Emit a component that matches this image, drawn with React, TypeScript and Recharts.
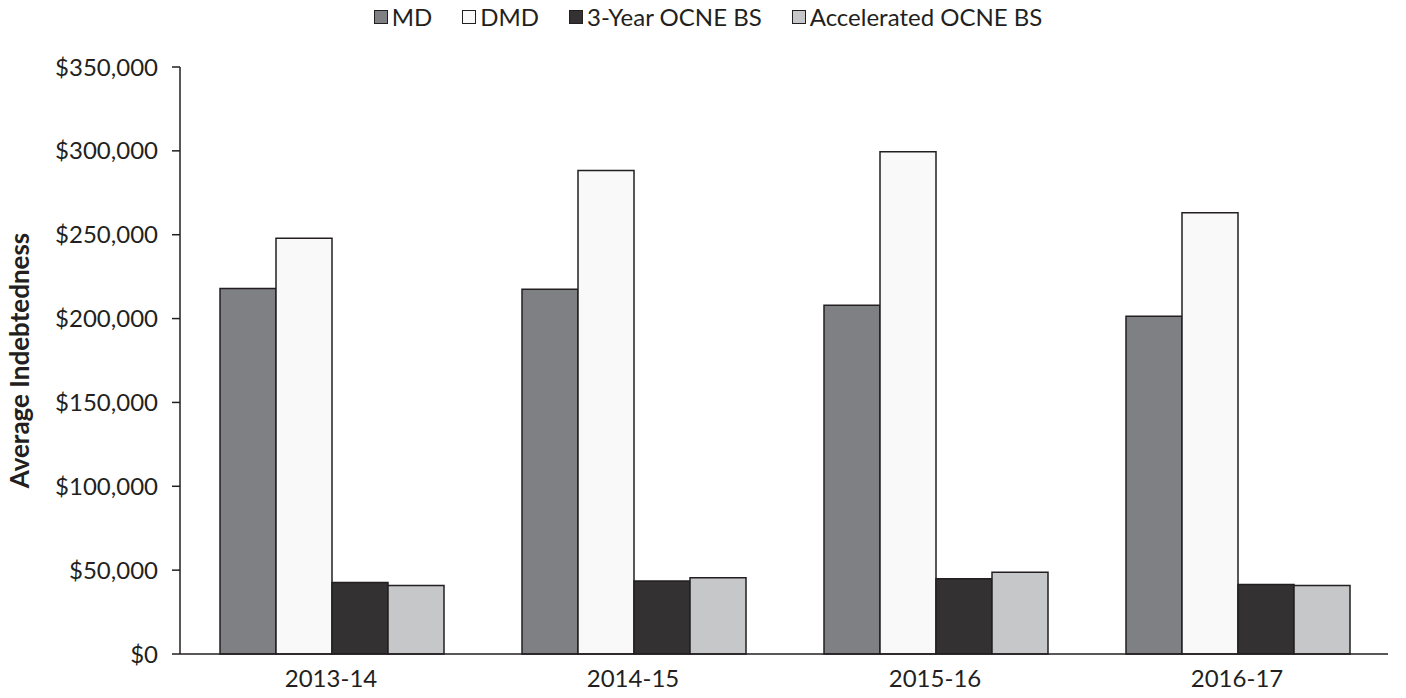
import React from "react";
import { BarChart, Bar, XAxis, YAxis } from "recharts";

const categories = ["2013-14", "2014-15", "2015-16", "2016-17"];
const mdValues = [218000, 217500, 208000, 201400];
const dmdValues = [247900, 288300, 299500, 263100];
const threeYearValues = [42600, 43600, 44800, 41500];
const acceleratedValues = [40800, 45400, 48700, 40900];
const yTicks = [0, 50000, 100000, 150000, 200000, 250000, 300000, 350000];

const seriesInfo = [
  { key: "md", name: "MD", color: "#7f8084" },
  { key: "dmd", name: "DMD", color: "#f9f9f9" },
  { key: "threeYear", name: "3-Year OCNE BS", color: "#333132" },
  { key: "accelerated", name: "Accelerated OCNE BS", color: "#c6c7c9" },
];

const data = categories.map((c, i) => ({
  category: c,
  md: mdValues[i],
  dmd: dmdValues[i],
  threeYear: threeYearValues[i],
  accelerated: acceleratedValues[i],
}));

const FONT = "Lato, 'Open Sans', sans-serif";
const INK = "#231f20";

const fmt = (v: number) => "$" + v.toLocaleString("en-US");

const LegendBox = () => (
  <div
    style={{
      position: "absolute",
      top: 3,
      left: 0,
      width: 1406,
      display: "flex",
      justifyContent: "center",
      alignItems: "center",
      fontFamily: FONT,
      fontSize: 24,
      lineHeight: "28px",
      color: INK,
      whiteSpace: "nowrap",
      paddingLeft: 10,
      boxSizing: "border-box",
    }}
  >
    {seriesInfo.map((s, i) => (
      <div
        key={s.key}
        style={{ display: "flex", alignItems: "center", marginLeft: i === 0 ? 0 : 30 }}
      >
        <span
          style={{
            display: "inline-block",
            width: 12,
            height: 12,
            background: s.color,
            border: `1.5px solid ${INK}`,
            marginRight: 4,
          }}
        />
        <span>{s.name}</span>
      </div>
    ))}
  </div>
);

const YLabel = (props: any) => {
  const vb = props.viewBox || {};
  const cy = (vb.y || 0) + (vb.height || 0) / 2;
  return (
    <text
      x={19}
      y={cy}
      transform={`rotate(-90, 19, ${cy})`}
      textAnchor="middle"
      dominantBaseline="central"
      fontFamily={FONT}
      fontSize={26}
      fontWeight={700}
      fill={INK}
    >
      Average Indebtedness
    </text>
  );
};

export default function App() {
  return (
    <div style={{ position: "absolute", left: 0, top: 0, width: 1406, height: 698, background: "#fff" }}>
      <BarChart
        width={1406}
        height={698}
        data={data}
        margin={{ top: 67, right: 18, bottom: 14, left: 0 }}
        barCategoryGap={40}
        barGap={0}
      >
        <XAxis
          dataKey="category"
          tickLine={false}
          tickSize={0}
          tickMargin={16}
          axisLine={{ stroke: INK, strokeWidth: 1.5 }}
          tick={{ fontFamily: FONT, fontSize: 24, fill: INK }}
        />
        <YAxis
          width={180}
          domain={[0, 350000]}
          ticks={yTicks}
          tickFormatter={fmt}
          tickSize={8}
          tickMargin={14}
          axisLine={{ stroke: INK, strokeWidth: 1.5 }}
          tickLine={{ stroke: INK, strokeWidth: 1.5 }}
          tick={{ fontFamily: FONT, fontSize: 24, fill: INK }}
          interval={0}
          label={<YLabel />}
        />
        {seriesInfo.map((s) => (
          <Bar
            key={s.key}
            dataKey={s.key}
            name={s.name}
            fill={s.color}
            stroke={INK}
            strokeWidth={1.5}
            isAnimationActive={false}
          />
        ))}
      </BarChart>
      <LegendBox />
    </div>
  );
}
